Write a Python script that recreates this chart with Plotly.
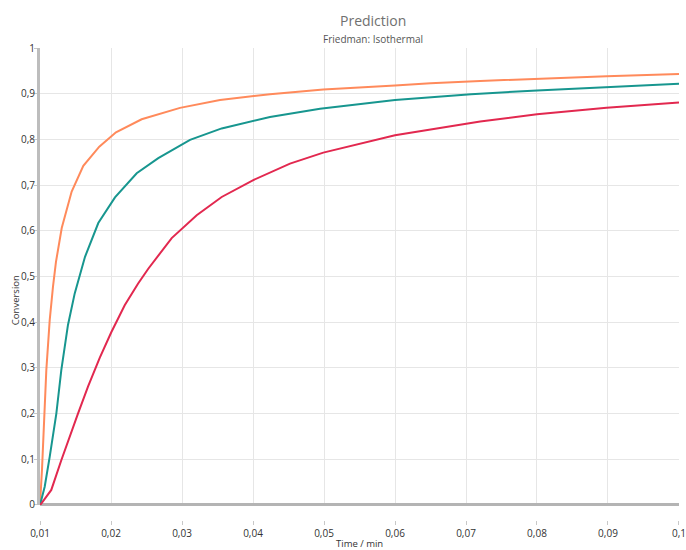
import plotly.graph_objects as go

# Model prediction curves: conversion vs. time for three isothermal temperatures
t_fast = [0.01, 0.01028, 0.01089, 0.01137, 0.01183, 0.01225, 0.01306, 0.01446, 0.0161,
          0.01835, 0.0207, 0.02432, 0.02972, 0.03535, 0.04239, 0.0499, 0.06, 0.065,
          0.072, 0.08, 0.0898, 0.1]
a_fast = [0.0, 0.077, 0.295, 0.405, 0.478, 0.532, 0.606, 0.686, 0.742,
          0.784, 0.8155, 0.844, 0.869, 0.886, 0.899, 0.909, 0.918, 0.923,
          0.928, 0.933, 0.938, 0.943]

t_mid = [0.01, 0.01066, 0.01137, 0.0123, 0.0130, 0.01394, 0.01489, 0.01582, 0.01634,
         0.01821, 0.02056, 0.02362, 0.02666, 0.03113, 0.03559, 0.04239, 0.04944, 0.06,
         0.065, 0.0707, 0.08, 0.0898, 0.1]
a_mid = [0.0, 0.04, 0.106, 0.2, 0.295, 0.394, 0.463, 0.514, 0.543,
         0.617, 0.673, 0.726, 0.759, 0.799, 0.824, 0.849, 0.867, 0.886,
         0.892, 0.899, 0.907, 0.915, 0.922]

t_slow = [0.01, 0.01018, 0.01159, 0.0130, 0.01535, 0.01676, 0.01841, 0.02004, 0.02193,
          0.0238, 0.02525, 0.02855, 0.03207, 0.03559, 0.04004, 0.04521, 0.0499, 0.06,
          0.072, 0.08, 0.0898, 0.1]
a_slow = [0.0, 0.003, 0.033, 0.098, 0.2, 0.259, 0.322, 0.378, 0.437,
          0.484, 0.517, 0.584, 0.634, 0.674, 0.711, 0.747, 0.771, 0.809,
          0.839, 0.855, 0.869, 0.881]

series = [
    (t_fast, a_fast, "#FF8A5B"),
    (t_mid, a_mid, "#17968F"),
    (t_slow, a_slow, "#E2284F"),
]

x_ticks = [0.01, 0.02, 0.03, 0.04, 0.05, 0.06, 0.07, 0.08, 0.09, 0.1]
y_ticks = [0, 0.1, 0.2, 0.3, 0.4, 0.5, 0.6, 0.7, 0.8, 0.9, 1]

FONT = "Open Sans, Noto Sans, sans-serif"

fig = go.Figure()
for t, a, color in series:
    fig.add_trace(go.Scatter(x=t, y=a, mode="lines",
                             line=dict(color=color, width=2),
                             showlegend=False, hoverinfo="x+y"))

fig.update_layout(
    width=686, height=550,
    margin=dict(l=40, r=7, t=48, b=30),
    paper_bgcolor="white", plot_bgcolor="white",
    separators=", ",
    font=dict(family=FONT, size=10, color="#333333"),
    xaxis=dict(
        range=[0.01, 0.100001], tickvals=x_ticks, tickformat="~g",
        showgrid=True, gridcolor="#E6E6E6", gridwidth=1,
        zeroline=False, showline=False,
        anchor="free", position=0, automargin=False,
        ticks="outside", ticklen=4, tickcolor="#C8C8C8", tickwidth=1,
        ticklabeloverflow="allow",
        tickfont=dict(size=10, color="#333333"),
    ),
    yaxis=dict(
        range=[0, 1], tickvals=y_ticks, tickformat="~g",
        domain=[0.0318, 1], automargin=False,
        showgrid=True, gridcolor="#E6E6E6", gridwidth=1,
        zeroline=True, zerolinecolor="#B4B4B4", zerolinewidth=3,
        showline=True, linecolor="#BDBDBD", linewidth=3,
        ticks="outside", ticklen=3, tickcolor="#C8C8C8",
        ticklabelstandoff=-3,
        tickfont=dict(size=10, color="#333333"),
    ),
    annotations=[
        dict(text="Prediction", xref="paper", yref="paper", x=0.521, y=1.059,
             xanchor="center", yanchor="middle", showarrow=False,
             font=dict(size=14, color="#707070", family=FONT)),
        dict(text="Friedman: Isothermal", xref="paper", yref="paper", x=0.521, y=1.019,
             xanchor="center", yanchor="middle", showarrow=False,
             font=dict(size=10, color="#555555", family=FONT)),
        dict(text="Time / min", xref="paper", yref="paper", x=0.5, y=-0.049,
             xanchor="center", yanchor="middle", showarrow=False,
             font=dict(size=9.5, color="#333333", family=FONT)),
        dict(text="Conversion", xref="paper", yref="paper", x=-0.039, y=0.466,
             xanchor="center", yanchor="middle", showarrow=False, textangle=-90,
             font=dict(size=9.5, color="#333333", family=FONT)),
    ],
)

fig.write_html("out.html")
